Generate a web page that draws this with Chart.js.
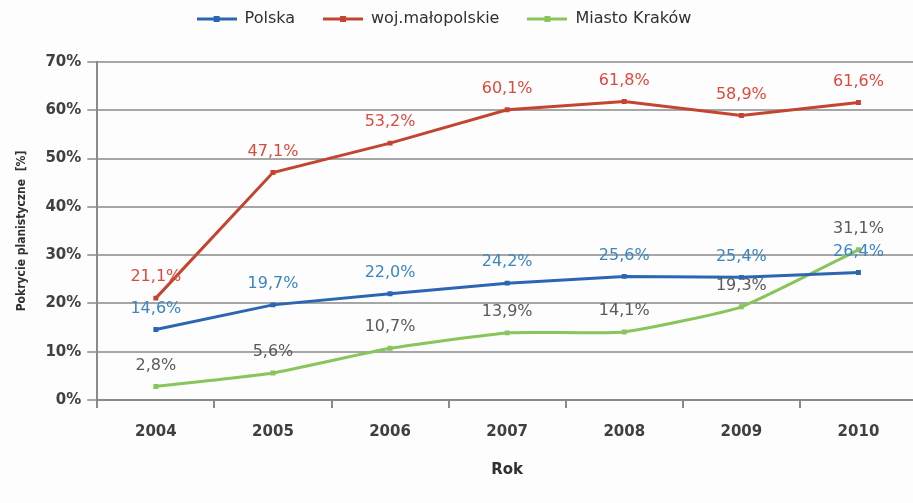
<!DOCTYPE html>
<html>
<head>
<meta charset="utf-8">
<script src="https://cdn.jsdelivr.net/npm/chart.js@4.4.1/dist/chart.umd.min.js"></script>
<style>
    html, body { margin: 0; padding: 0; background: #fdfdfd; overflow: hidden; }
    .wrap { width: 921px; height: 503px; }
</style>
</head>
<body>
<div class="wrap"><canvas id="chart"></canvas></div>
<script>
const lata = ['2004', '2005', '2006', '2007', '2008', '2009', '2010'];
const polska = [14.6, 19.7, 22.0, 24.2, 25.6, 25.4, 26.4];
const malopolskie = [21.1, 47.1, 53.2, 60.1, 61.8, 58.9, 61.6];
const krakow = [2.8, 5.6, 10.7, 13.9, 14.1, 19.3, 31.1];
const osY = [0, 10, 20, 30, 40, 50, 60, 70];

const kolory = {
    polska: { linia: '#2c66b2', tekst: '#3a86c2' },
    woj: { linia: '#c4452f', tekst: '#dc4a3e' },
    krakow: { linia: '#88c55a', tekst: '#5a5a5a' }
};

// mala ikonka do legendy: kreska z kwadracikiem
function ikonaLegendy(kolor) {
    const c = document.createElement('canvas');
    c.width = 40;
    c.height = 10;
    const ctx = c.getContext('2d');
    ctx.strokeStyle = kolor;
    ctx.lineWidth = 3;
    ctx.beginPath();
    ctx.moveTo(0, 5);
    ctx.lineTo(40, 5);
    ctx.stroke();
    ctx.fillStyle = kolor;
    ctx.fillRect(17, 2, 6, 6);
    return c;
}

function formatuj(v) {
    return v.toFixed(1).replace('.', ',') + '%';
}

const etykiety = {
    id: 'etykiety',
    afterDatasetsDraw(chart) {
        const ctx = chart.ctx;
        ctx.save();
        ctx.font = '16px "DejaVu Sans"';
        ctx.textAlign = 'center';
        ctx.textBaseline = 'middle';
        chart.data.datasets.forEach((ds, i) => {
            const meta = chart.getDatasetMeta(i);
            ctx.fillStyle = ds.kolorTekstu;
            meta.data.forEach((pt, j) => {
                ctx.fillText(formatuj(ds.data[j]), pt.x, pt.y - 21);
            });
        });
        ctx.restore();
    }
};

const przesunLegende = {
    id: 'przesunLegende',
    afterLayout(chart) {
        const lg = chart.legend;
        if (lg) {
            lg.left -= 22;
            lg.right -= 22;
            lg.top -= 25;
            lg.bottom -= 25;
        }
    }
};

function zbiorDanych(nazwa, dane, k) {
    return {
        label: nazwa,
        data: dane,
        borderColor: k.linia,
        backgroundColor: k.linia,
        borderWidth: 3,
        pointStyle: 'rect',
        pointRadius: 3.5,
        pointBackgroundColor: k.linia,
        pointBorderWidth: 0,
        tension: 0,
        kolorTekstu: k.tekst
    };
}

const ds3 = zbiorDanych('Miasto Kraków', krakow, kolory.krakow);
ds3.tension = 0.15;

new Chart(document.getElementById('chart'), {
    type: 'line',
    data: {
        labels: lata,
        datasets: [
            zbiorDanych('Polska', polska, kolory.polska),
            zbiorDanych('woj.małopolskie', malopolskie, kolory.woj),
            ds3
        ]
    },
    plugins: [etykiety, przesunLegende],
    options: {
        responsive: true,
        maintainAspectRatio: false,
        animation: false,
        layout: { padding: { top: 8, right: 0, bottom: 20, left: 11 } },
        plugins: {
            tooltip: { enabled: false },
            legend: {
                position: 'top',
                labels: {
                    usePointStyle: true,
                    pointStyleWidth: 40,
                    padding: 28,
                    color: '#303030',
                    font: { family: 'DejaVu Sans', size: 16 },
                    generateLabels(chart) {
                        return chart.data.datasets.map((ds, i) => ({
                            text: ds.label,
                            pointStyle: ikonaLegendy(ds.borderColor),
                            fillStyle: ds.borderColor,
                            strokeStyle: ds.borderColor,
                            lineWidth: 0,
                            fontColor: '#303030',
                            datasetIndex: i
                        }));
                    }
                }
            }
        },
        scales: {
            x: {
                offset: true,
                grid: {
                    display: true,
                    offset: true,
                    drawOnChartArea: false,
                    drawTicks: true,
                    tickLength: 8,
                    color: '#8a8a8a',
                    lineWidth: 2
                },
                border: { color: '#8a8a8a', width: 2 },
                ticks: {
                    color: '#404040',
                    padding: 15,
                    font: { family: 'DejaVu Sans', size: 15, weight: 'bold' }
                },
                title: {
                    display: true,
                    text: 'Rok',
                    color: '#303030',
                    padding: { top: 5 },
                    font: { family: 'DejaVu Sans', size: 15, weight: 'bold' }
                }
            },
            y: {
                min: 0,
                max: 70,
                afterBuildTicks(axis) {
                    axis.ticks = osY.map(v => ({ value: v }));
                },
                grid: {
                    color: '#a6a6a6',
                    lineWidth: 2,
                    tickLength: 10
                },
                border: { color: '#8a8a8a', width: 2 },
                ticks: {
                    color: '#404040',
                    padding: 6,
                    font: { family: 'DejaVu Sans', size: 15, weight: 'bold' },
                    callback: v => v + '%'
                },
                title: {
                    display: true,
                    text: 'Pokrycie planistyczne  [%]',
                    color: '#303030',
                    padding: { bottom: 10 },
                    font: { family: 'DejaVu Sans Condensed', size: 12, weight: 'bold' }
                }
            }
        }
    }
});
</script>
</body>
</html>
